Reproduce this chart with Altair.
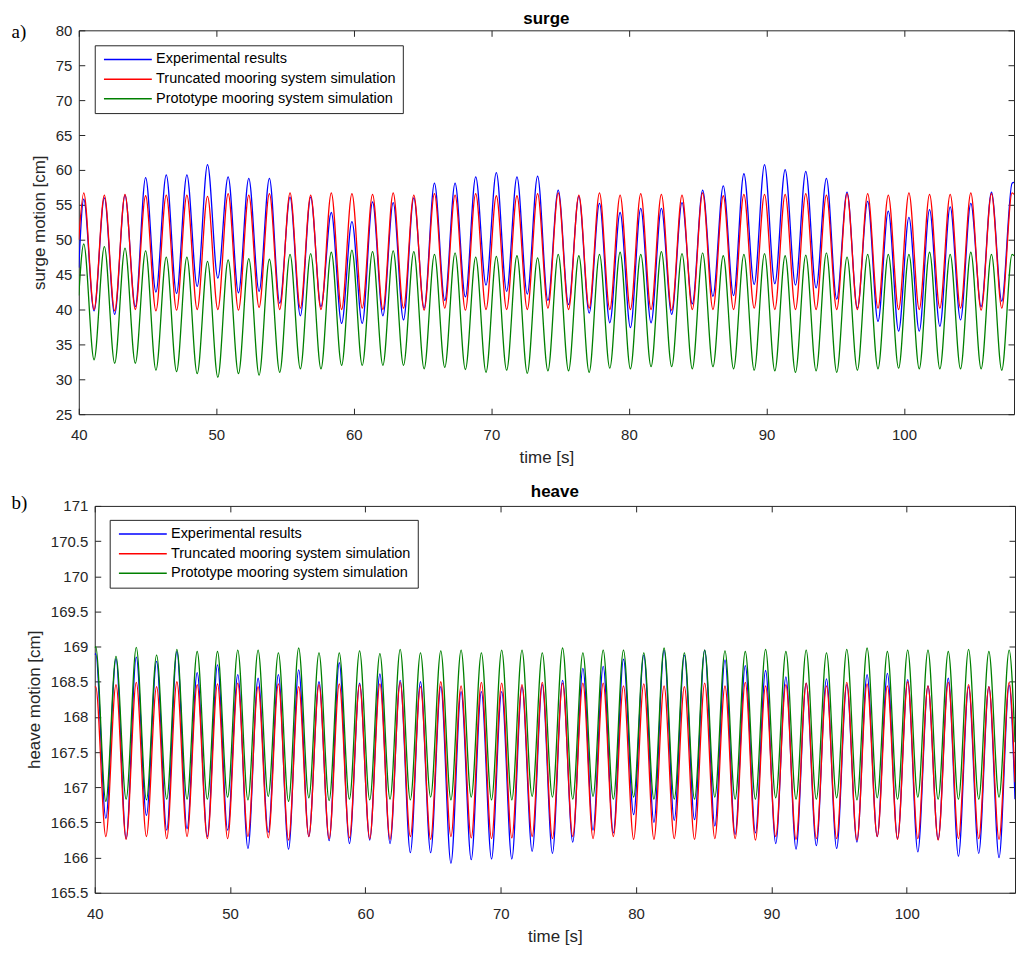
import altair as alt
import pandas as pd

SERIES = [
    "Experimental results",
    "Truncated mooring system simulation",
    "Prototype mooring system simulation",
]
COLORS = ["#0000ff", "#ff0000", "#008000"]
INK = "#262626"
FONT = "Liberation Sans"

X_TICKS = [40, 50, 60, 70, 80, 90, 100]
SURGE_Y_TICKS = [25, 30, 35, 40, 45, 50, 55, 60, 65, 70, 75, 80]
HEAVE_Y_TICKS = [165.5, 166, 166.5, 167, 167.5, 168, 168.5, 169, 169.5, 170, 170.5, 171]

PERIOD = 1.5
T_START, T_END = 40.0, 108.0

# ---- surge: crests (46) and troughs (45) read cycle by cycle [cm] ----
SURGE_FIRST_CREST = 40.36
SURGE_EXP_PEAKS = [55.8, 56.0, 56.4, 58.9, 59.3, 59.3, 60.75, 59.0, 58.8, 58.8, 56.1,
                   56.1, 53.9, 52.6, 55.4, 55.3, 56.0, 58.1, 58.1, 59.0, 59.6, 59.0,
                   59.1, 57.1, 56.2, 55.2, 53.9, 54.5, 54.5, 55.3, 57.1, 57.7, 59.45,
                   60.75, 60.05, 59.8, 58.8, 56.8, 55.5, 54.1, 53.2, 54.3, 54.7, 55.2,
                   56.8, 58.1]
SURGE_EXP_TROUGHS = [39.8, 39.3, 40.4, 42.5, 42.3, 43.3, 44.5, 42.4, 42.6, 40.9, 39.1,
                     40.4, 38.0, 38.0, 39.1, 38.5, 40.2, 41.3, 41.8, 43.5, 42.6, 42.2,
                     41.3, 40.7, 39.5, 38.1, 37.4, 38.1, 39.3, 40.8, 41.9, 42.0, 43.6,
                     43.7, 43.5, 43.1, 41.5, 40.2, 38.3, 36.9, 36.9, 37.6, 38.5, 40.4,
                     41.2]
SURGE_TRUNC_PEAKS = [56.7, 56.4, 56.5, 56.3, 56.4, 56.4, 56.2, 56.6, 56.4, 56.6, 56.7,
                     56.4, 56.7, 56.6, 56.5, 56.7, 56.4, 56.6, 56.4, 56.6, 56.3, 56.3,
                     56.6, 56.7, 56.4, 56.7, 56.4, 56.6, 56.5, 56.4, 56.7, 56.3, 56.5,
                     56.5, 56.5, 56.6, 56.4, 56.6, 56.6, 56.4, 56.7, 56.5, 56.5, 56.7,
                     56.6, 56.7]
SURGE_TRUNC_TROUGHS = [40.0, 39.8, 40.0, 39.8, 39.9, 40.0, 40.0, 39.9, 40.3, 40.0, 40.2,
                       40.0, 40.0, 40.2, 40.0, 40.2, 39.9, 40.2, 39.9, 40.0, 40.0, 40.0,
                       40.2, 40.0, 40.2, 40.0, 40.0, 40.0, 39.9, 40.0, 40.0, 40.0, 40.2,
                       40.0, 40.0, 40.0, 40.0, 40.0, 40.2, 40.0, 40.0, 40.2, 40.2, 39.9,
                       40.2]
SURGE_PROTO_PEAKS = [49.4, 49.0, 48.8, 48.4, 47.5, 47.5, 46.9, 47.1, 47.3, 47.2, 47.9,
                     48.0, 48.2, 48.5, 48.3, 48.4, 48.3, 47.9, 48.1, 47.5, 47.6, 47.7,
                     47.4, 47.9, 47.7, 47.9, 48.2, 47.9, 48.3, 48.0, 48.1, 47.7, 47.9,
                     48.0, 47.7, 47.8, 48.1, 47.5, 47.9, 47.9, 47.9, 48.2, 47.9, 48.2,
                     47.9, 47.9]
SURGE_PROTO_TROUGHS = [32.8, 32.3, 32.3, 31.3, 31.1, 30.8, 30.3, 30.8, 30.6, 31.0, 31.5,
                       31.5, 32.0, 32.0, 32.0, 32.0, 31.5, 31.7, 31.4, 31.0, 31.3, 30.85,
                       31.2, 31.2, 31.0, 31.6, 31.5, 31.8, 31.8, 31.5, 31.8, 31.5, 31.3,
                       31.2, 31.0, 31.2, 31.0, 31.3, 31.5, 31.6, 31.5, 31.5, 31.5, 31.5,
                       31.3]
SURGE_START = [46.0, 50.0, 42.0]   # values at t = 40 s
SURGE_END = [58.2, 56.5, 47.7]     # values at t = 108 s

# ---- heave: crests (46) and troughs (45) [cm] ----
HEAVE_FIRST_CREST = 40.07
HEAVE_EXP_PEAKS = [168.9, 168.83, 168.85, 168.79, 168.93, 168.63, 168.74, 168.6, 168.55,
                   168.6, 168.67, 168.5, 168.77, 168.48, 168.61, 168.52, 168.5, 168.43,
                   168.36, 168.36, 168.36, 168.43, 168.46, 168.52, 168.69, 168.72, 168.82,
                   168.88, 168.95, 168.88, 168.95, 168.81, 168.73, 168.66, 168.57, 168.48,
                   168.54, 168.46, 168.6, 168.62, 168.53, 168.44, 168.55, 168.43, 168.43,
                   168.45]
HEAVE_EXP_TROUGHS = [166.56, 166.27, 166.6, 166.39, 166.41, 166.3, 166.39, 166.13, 166.36,
                     166.12, 166.3, 166.24, 166.2, 166.25, 166.2, 166.07, 166.07, 165.92,
                     165.97, 165.98, 165.98, 166.09, 166.06, 166.22, 166.39, 166.35, 166.61,
                     166.5, 166.53, 166.54, 166.45, 166.33, 166.35, 166.2, 166.12, 166.17,
                     166.13, 166.22, 166.3, 166.27, 166.08, 166.26, 166.02, 166.06, 166.0]
HEAVE_TRUNC_PEAKS = [168.43, 168.46, 168.49, 168.43, 168.5, 168.46, 168.47, 168.48, 168.43,
                     168.47, 168.43, 168.46, 168.47, 168.46, 168.47, 168.49, 168.43, 168.5,
                     168.44, 168.49, 168.48, 168.46, 168.49, 168.48, 168.48, 168.48, 168.44,
                     168.47, 168.44, 168.43, 168.48, 168.44, 168.49, 168.44, 168.46, 168.48,
                     168.44, 168.49, 168.47, 168.44, 168.5, 168.44, 168.49, 168.46, 168.43,
                     168.49]
HEAVE_TRUNC_TROUGHS = [166.3, 166.26, 166.3, 166.27, 166.3, 166.27, 166.27, 166.3, 166.28,
                       166.25, 166.3, 166.27, 166.28, 166.27, 166.26, 166.3, 166.26, 166.3,
                       166.28, 166.27, 166.28, 166.3, 166.27, 166.3, 166.27, 166.3, 166.26,
                       166.26, 166.27, 166.26, 166.27, 166.27, 166.25, 166.3, 166.26, 166.27,
                       166.27, 166.25, 166.3, 166.26, 166.27, 166.25, 166.27, 166.27, 166.26]
HEAVE_PROTO_PEAKS = [169.0, 168.86, 168.99, 168.88, 168.96, 168.93, 168.93, 168.95, 168.95,
                     168.91, 168.98, 168.91, 168.91, 168.94, 168.9, 168.96, 168.91, 168.94,
                     168.95, 168.91, 168.95, 168.95, 168.91, 168.98, 168.91, 168.95, 168.95,
                     168.91, 168.98, 168.91, 168.95, 168.94, 168.93, 168.96, 168.93, 168.95,
                     168.91, 168.96, 168.98, 168.93, 168.95, 168.95, 168.93, 168.96, 168.93,
                     168.95]
HEAVE_PROTO_TROUGHS = [166.8, 166.83, 166.82, 166.83, 166.83, 166.83, 166.86, 166.82, 166.87,
                       166.8, 166.85, 166.81, 166.83, 166.82, 166.83, 166.82, 166.86, 166.82,
                       166.86, 166.82, 166.82, 166.87, 166.86, 166.83, 166.87, 166.83, 166.86,
                       166.83, 166.83, 166.83, 166.86, 166.83, 166.83, 166.85, 166.83, 166.83,
                       166.85, 166.82, 166.85, 166.83, 166.86, 166.83, 166.83, 166.83, 166.86]
HEAVE_START = [168.88, 168.42, 168.98]
HEAVE_END = [166.83, 167.07, 167.64]


def build_frame(first_crest, peaks, troughs, start, end):
    rows = []
    for name, pk, tr, v0, v1 in zip(SERIES, peaks, troughs, start, end):
        rows.append((name, T_START, v0))
        for k, v in enumerate(pk):
            rows.append((name, first_crest + k * PERIOD, v))
            if k < len(tr):
                rows.append((name, first_crest + (k + 0.5) * PERIOD, tr[k]))
        rows.append((name, T_END, v1))
    return pd.DataFrame(rows, columns=["series", "time", "value"])


def panel(df, title, y_title, y_domain, y_ticks, width, height,
          tag, tag_x, tag_y, legend_x, legend_y, title_offset):
    x_scale = alt.Scale(domain=[T_START, T_END], nice=False, zero=False)
    y_scale = alt.Scale(domain=y_domain, nice=False, zero=False)
    legend = alt.Legend(
        title=None, orient="none", legendX=legend_x, legendY=legend_y,
        fillColor="white", strokeColor=INK, padding=7, cornerRadius=0,
        symbolType="M-4.8,0H4.8", symbolSize=100, symbolStrokeWidth=1.5,
        symbolOffset=19, labelOffset=21, labelFont=FONT, labelFontSize=14.5,
        labelColor="black", labelLimit=400, rowPadding=4.7,
    )
    label_style = dict(labelFont=FONT, labelFontSize=15, labelColor=INK,
                       titleFont=FONT, titleFontSize=17, titleColor=INK,
                       titleFontWeight="normal", ticks=False, domain=False,
                       grid=False, labelFlush=False, labelOverlap=False)
    x_axis = alt.Axis(values=X_TICKS, title="time [s]", labelPadding=13.6,
                      titlePadding=6.9, **label_style)
    y_axis = alt.Axis(values=y_ticks, format="~f", title=y_title,
                      labelPadding=7, titlePadding=7, **label_style)

    layers = []
    for i, name in enumerate(SERIES):
        layers.append(
            alt.Chart(df)
            .transform_filter(alt.datum.series == name)
            .mark_line(interpolate="monotone", clip=True, strokeWidth=1.3)
            .encode(
                x=alt.X("time:Q", scale=x_scale, axis=x_axis if i == 0 else None),
                y=alt.Y("value:Q", scale=y_scale, axis=y_axis if i == 0 else None),
                color=alt.Color("series:N", scale=alt.Scale(domain=SERIES, range=COLORS),
                                legend=legend),
            )
        )

    # MATLAB-style ticks pointing into the box on all four sides
    tick = dict(labels=False, domain=False, grid=False, title=None, ticks=True,
                tickSize=6, tickColor=INK, tickWidth=1)
    ghost = alt.Chart(df).mark_line(opacity=0)
    layers.append(ghost.encode(
        x=alt.X("time:Q", scale=x_scale,
                axis=alt.Axis(orient="top", offset=-height, values=X_TICKS, **tick)),
        y=alt.Y("value:Q", scale=y_scale,
                axis=alt.Axis(orient="right", offset=-width, values=y_ticks, **tick)),
    ))
    layers.append(ghost.encode(
        x=alt.X("time:Q", scale=x_scale,
                axis=alt.Axis(orient="bottom", offset=-height, values=X_TICKS, **tick)),
        y=alt.Y("value:Q", scale=y_scale,
                axis=alt.Axis(orient="left", offset=-width, values=y_ticks, **tick)),
    ))

    layers.append(
        alt.Chart(pd.DataFrame({"tag": [tag]}))
        .mark_text(font="Liberation Serif", fontSize=19, color="black",
                   align="left", baseline="alphabetic")
        .encode(text="tag:N", x=alt.value(tag_x), y=alt.value(tag_y))
    )

    return (
        alt.layer(*layers)
        .resolve_axis(x="independent", y="independent")
        .properties(
            width=width, height=height,
            title=alt.TitleParams(title, font=FONT, fontSize=17, fontWeight="bold",
                                  color="black", anchor="middle", frame="group",
                                  offset=title_offset),
        )
    )


def spacer():
    # empty 1px cell that pins each row's left edge, so the two plot boxes
    # can sit at different x positions like in the original figure
    return (
        alt.Chart(pd.DataFrame({"tag": [""]}))
        .mark_text()
        .encode(text="tag:N", x=alt.value(0), y=alt.value(0))
        .properties(width=1, height=1, view=alt.ViewBackground(stroke="transparent"))
    )


surge_df = build_frame(
    SURGE_FIRST_CREST,
    [SURGE_EXP_PEAKS, SURGE_TRUNC_PEAKS, SURGE_PROTO_PEAKS],
    [SURGE_EXP_TROUGHS, SURGE_TRUNC_TROUGHS, SURGE_PROTO_TROUGHS],
    SURGE_START, SURGE_END,
)
heave_df = build_frame(
    HEAVE_FIRST_CREST,
    [HEAVE_EXP_PEAKS, HEAVE_TRUNC_PEAKS, HEAVE_PROTO_PEAKS],
    [HEAVE_EXP_TROUGHS, HEAVE_TRUNC_TROUGHS, HEAVE_PROTO_TROUGHS],
    HEAVE_START, HEAVE_END,
)

surge = panel(surge_df, "surge", "surge motion [cm]", [25, 80], SURGE_Y_TICKS,
              938, 385, "a)", -67.5, 8, 16, 15, -4.5)
heave = panel(heave_df, "heave", "heave motion [cm]", [165.5, 171], HEAVE_Y_TICKS,
              923, 388, "b)", -83.5, 3, 15, 14, -6.7)

chart = (
    alt.vconcat(
        alt.hconcat(spacer(), surge, spacing=0).resolve_scale(color="independent"),
        alt.hconcat(spacer(), heave, spacing=0).resolve_scale(color="independent"),
        spacing=16,
    )
    .resolve_scale(color="independent")
    .properties(padding={"left": 0, "top": 0, "right": 0, "bottom": -1},
                background="white")
    .configure_view(stroke=INK, strokeWidth=1)
)

chart.save("out.html", embed_options={"renderer": "svg", "actions": False})
